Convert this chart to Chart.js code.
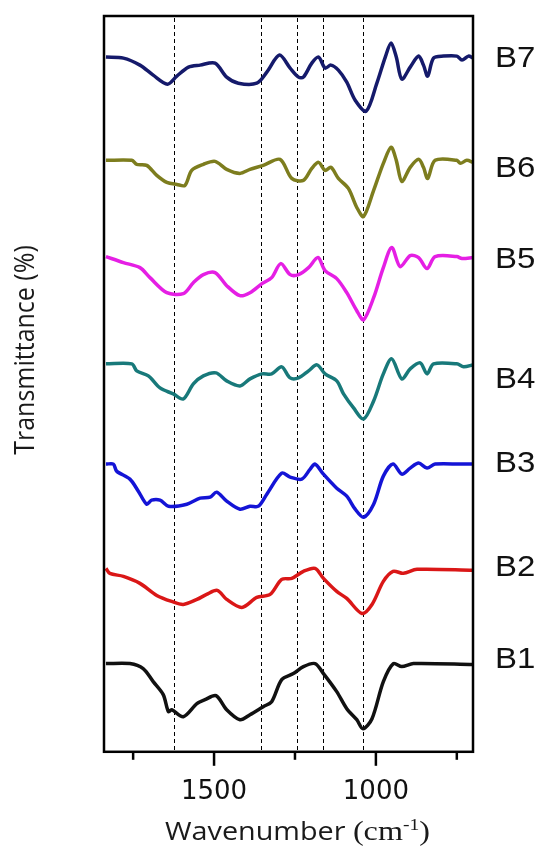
<!DOCTYPE html>
<html>
<head>
<meta charset="utf-8">
<script src="https://cdn.jsdelivr.net/npm/chart.js@4.4.1/dist/chart.umd.min.js"></script>
<style>
  html, body { margin: 0; padding: 0; background: #fff; }
  #wrap { width: 543px; height: 846px; }
</style>
</head>
<body>
<div id="wrap"><canvas id="ftir"></canvas></div>
<script>
// wavenumbers (cm-1) and transmittance (arbitrary, stacked)
var b7Wn = [1834,1780,1729,1688,1644,1615,1579,1543,1497,1461,1425,1368,1337,1298,1265,1239,1224,1198,1177,1157,1139,1116,1090,1064,1030,997,971,953,937,920,894,868,853,840,822,791,750,734,714,700];
var b7T  = [693,692,685,675,666,674,683,685,687,673,667,667,678,695,682,673,673,687,693,682,685,680,668,650,639,667,693,707,693,671,683,694,685,674,692,694,694,690,694,692];

var b6Wn = [1834,1754,1739,1708,1677,1646,1615,1590,1569,1533,1497,1461,1420,1389,1348,1296,1260,1224,1198,1177,1157,1139,1116,1085,1059,1038,1007,977,953,937,920,894,868,853,840,817,750,739,719,700];
var b6T  = [590,590,586,585,575,568,566,565,580,586,589,581,577,581,585,591,572,570,582,588,580,583,572,562,543,534,560,587,603,590,569,583,591,583,572,590,590,587,590,588];

var b5Wn = [1834,1780,1729,1698,1646,1595,1564,1533,1497,1461,1420,1389,1352,1322,1294,1265,1239,1208,1179,1157,1121,1090,1059,1038,1007,977,951,925,894,868,842,817,750,734,700];
var b5T  = [494,488,483,473,458,457,468,476,478,465,455,458,467,473,487,476,476,483,493,480,472,458,440,431,453,483,503,484,495,493,482,494,494,492,493];

var b4Wn = [1834,1754,1739,1703,1667,1626,1595,1564,1533,1494,1461,1420,1389,1352,1322,1291,1265,1239,1208,1182,1157,1121,1100,1069,1038,1007,977,951,920,894,863,842,822,750,729,700];
var b4T  = [387,387,380,375,363,357,352,367,375,378,370,365,372,377,377,384,373,373,380,386,377,370,357,343,332,350,377,392,372,382,388,377,387,387,384,386];

var b3Wn = [1834,1811,1801,1760,1734,1708,1693,1667,1641,1584,1543,1512,1492,1461,1420,1389,1363,1337,1291,1265,1229,1203,1188,1162,1121,1090,1064,1038,1007,977,947,920,894,868,842,817,739,700];
var b3T  = [287,287,280,272,260,247,251,251,245,247,253,254,259,250,242,245,245,257,278,274,272,282,287,277,263,255,242,234,247,275,287,277,283,288,283,287,287,287];

var b2Wn = [1834,1822,1780,1729,1677,1631,1595,1553,1523,1490,1461,1414,1368,1327,1291,1260,1224,1188,1162,1121,1090,1043,1012,977,947,915,873,700];
var b2T  = [183,178,175,168,156,150,147,152,157,161,152,144,154,157,172,173,180,183,173,160,153,138,147,170,180,178,182,181];

var b1Wn = [1834,1760,1719,1688,1657,1641,1631,1595,1553,1528,1494,1461,1420,1389,1348,1322,1291,1255,1224,1188,1162,1121,1090,1059,1040,1012,977,946,920,884,700];
var b1T  = [88,88,83,70,57,40,42,35,48,52,56,42,32,37,45,50,72,78,85,88,78,60,43,32,23,33,70,88,85,88,87];

var sampleNames = ['B7','B6','B5','B4','B3','B2','B1'];
var bandLines = [1624, 1355, 1243, 1163, 1039];   // dashed marker positions
var tickValues = [750, 1000, 1250, 1500, 1750];
var labelledTicks = [1000, 1500];

var seriesWn = [b7Wn, b6Wn, b5Wn, b4Wn, b3Wn, b2Wn, b1Wn];
var seriesT  = [b7T, b6T, b5T, b4T, b3T, b2T, b1T];
var colors = ['#151a6b', '#7d7d1e', '#e51fe4', '#18797a', '#1414d6', '#da1717', '#111111'];
var labelNudge = [1, 6, 2, 15, 0, -3, -5];   // px shift of the B labels

function toPoints(wn, t) {
  return wn.map(function(x, i){ return {x: x, y: t[i]}; });
}

var datasets = sampleNames.map(function(name, i){
  return {
    label: name,
    data: toPoints(seriesWn[i], seriesT[i]),
    borderColor: colors[i],
    borderWidth: 3.5,
    pointRadius: 0,
    fill: false,
    tension: 0.3
  };
});

var decor = {
  id: 'decor',
  beforeDatasetsDraw: function(chart) {
    var ctx = chart.ctx, a = chart.chartArea, xs = chart.scales.x;
    ctx.save();
    ctx.strokeStyle = '#000';
    ctx.lineWidth = 1;
    ctx.setLineDash([4, 3]);
    bandLines.forEach(function(v){
      var px = Math.round(xs.getPixelForValue(v)) + 0.5;
      ctx.beginPath();
      ctx.moveTo(px, a.top + 2);
      ctx.lineTo(px, a.bottom);
      ctx.stroke();
    });
    ctx.restore();
  },
  afterDatasetsDraw: function(chart) {
    var ctx = chart.ctx, a = chart.chartArea, xs = chart.scales.x, ys = chart.scales.y;
    ctx.save();
    // frame
    ctx.strokeStyle = '#000';
    ctx.lineWidth = 2.5;
    ctx.strokeRect(a.left, a.top, a.right - a.left, a.bottom - a.top);
    // tick marks
    tickValues.forEach(function(v){
      var px = xs.getPixelForValue(v);
      var len = labelledTicks.indexOf(v) >= 0 ? 14 : 8;
      ctx.beginPath();
      ctx.moveTo(px, a.bottom);
      ctx.lineTo(px, a.bottom + len);
      ctx.stroke();
    });
    // sample labels at the right
    ctx.fillStyle = '#111';
    ctx.textBaseline = 'middle';
    ctx.textAlign = 'left';
    ctx.font = '30px "Liberation Sans", Arial, sans-serif';
    chart.data.datasets.forEach(function(ds, i){
      var last = ds.data[ds.data.length - 1];
      var py = ys.getPixelForValue(last.y) + labelNudge[i];
      ctx.save();
      ctx.translate(a.right + 22, py);
      ctx.scale(1.1, 1);
      ctx.fillText(ds.label, 0, 0);
      ctx.restore();
    });
    // y title
    ctx.save();
    ctx.translate(26, 350);
    ctx.rotate(-Math.PI / 2);
    ctx.scale(1, 1.12);
    ctx.textAlign = 'center';
    ctx.font = '25px "Open Sans", sans-serif';
    ctx.fillStyle = '#1a1a1a';
    ctx.fillText('Transmittance (%)', 0, 0);
    ctx.restore();
    // x title with serif unit
    var sans = '25px "Open Sans", sans-serif';
    var serif = '28px "Liberation Serif", "Times New Roman", serif';
    var sup = '17px "Liberation Serif", "Times New Roman", serif';
    var parts = [
      {t: 'Wavenumber ', f: sans, dy: 0},
      {t: '(cm', f: serif, dy: 0},
      {t: '-1', f: sup, dy: -10},
      {t: ')', f: serif, dy: 0}
    ];
    var w = 0;
    parts.forEach(function(p){ ctx.font = p.f; p.w = ctx.measureText(p.t).width; w += p.w; });
    var sx = 1.15;
    var cx = (a.left + a.right) / 2 + 9;
    ctx.save();
    ctx.translate(cx - w * sx / 2, 840);
    ctx.scale(sx, 1);
    ctx.textAlign = 'left';
    ctx.textBaseline = 'alphabetic';
    ctx.fillStyle = '#1a1a1a';
    var x = 0;
    parts.forEach(function(p){ ctx.font = p.f; ctx.fillText(p.t, x, p.dy); x += p.w; });
    ctx.restore();
    ctx.restore();
  }
};

new Chart(document.getElementById('ftir'), {
  type: 'line',
  data: { datasets: datasets },
  options: {
    responsive: true,
    maintainAspectRatio: false,
    animation: false,
    layout: { padding: { left: 104, right: 70, top: 16, bottom: 21 } },
    plugins: { legend: { display: false }, tooltip: { enabled: false } },
    scales: {
      x: {
        type: 'linear',
        reverse: true,
        min: 700,
        max: 1840,
        grid: { display: false },
        border: { display: false },
        afterBuildTicks: function(scale){
          scale.ticks = tickValues.map(function(v){ return {value: v}; });
        },
        ticks: {
          autoSkip: false,
          maxRotation: 0,
          padding: 17,
          color: '#111',
          font: { family: 'DejaVu Sans', size: 26 },
          callback: function(v){ return labelledTicks.indexOf(v) >= 0 ? String(v) : ''; }
        }
      },
      y: {
        display: false,
        min: 0,
        max: 734
      }
    }
  },
  plugins: [decor]
});
</script>
</body>
</html>
